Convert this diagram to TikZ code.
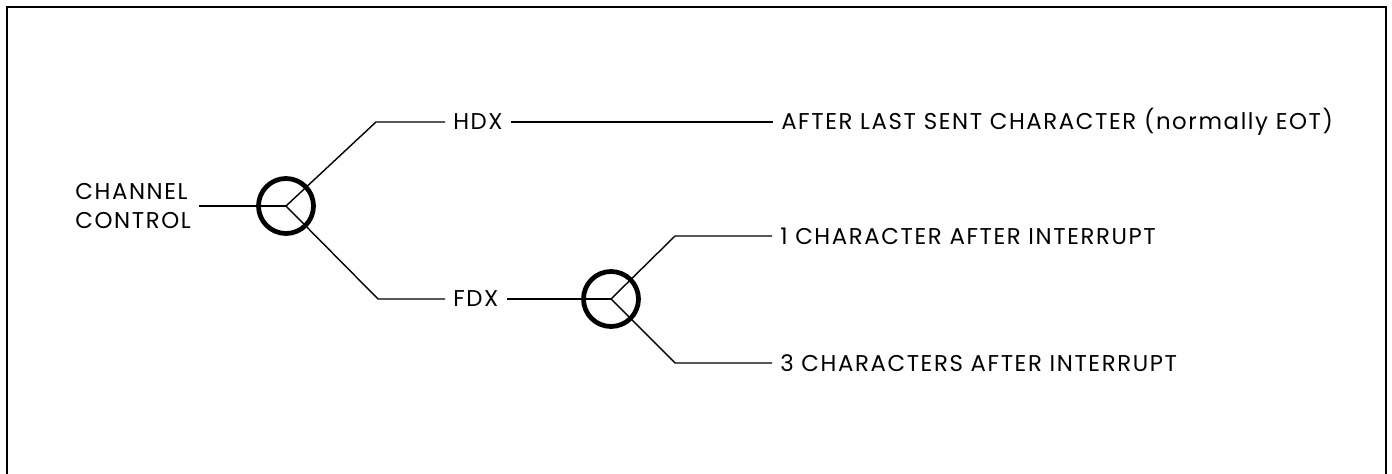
\documentclass[tikz,border=0pt]{standalone}
\usepackage{fontspec}
\setmainfont{Poppins}[LetterSpace=7]
\usepackage{tikz}
\usetikzlibrary{positioning,calc}
\tikzset{
  modelbl/.style  = {inner sep=4.5pt, font=\fontsize{13}{17}\selectfont, align=left},
  modesel/.style  = {circle, draw=black, line width=2.7pt, minimum size=11mm, inner sep=0pt},
  modewire/.style = {draw=black, line width=0.8pt},
  frameline/.style= {draw=black, line width=1.2pt},
}

\begin{document}
\begin{tikzpicture}
  \useasboundingbox (0,0) rectangle (27.84,9.46);
  \draw[frameline] (0.14,-0.2) -- (0.14,9.32) -- (27.72,9.32) -- (27.72,-0.2);

  \node[modelbl, anchor=east] (ctrl) at (3.98,5.34) {CHANNEL\\CONTROL};
  \node[modesel] (sw1) at (5.72,5.34) {};
  \node[modelbl, anchor=west] (hdx)  at (8.90,7.02) {HDX};
  \node[modelbl, anchor=west] (fdx)  at (8.90,3.48) {FDX};
  \node[modesel] (sw2) at (12.22,3.48) {};
  \node[modelbl, anchor=west] (eot)  at (15.46,7.02) {AFTER LAST SENT CHARACTER (normally EOT)};
  \node[modelbl, anchor=west] (one)  at (15.44,4.74) {1 CHARACTER AFTER INTERRUPT};
  \node[modelbl, anchor=west] (three) at (15.44,2.20) {3 CHARACTERS AFTER INTERRUPT};

  \coordinate (k1) at (7.52,7.02);
  \coordinate (k2) at (7.56,3.48);
  \coordinate (k3) at (13.50,4.74);
  \coordinate (k4) at (13.50,2.20);

  \draw[modewire] (ctrl) -- (sw1.center);
  \draw[modewire] (sw1.center) -- (k1) -- (hdx);
  \draw[modewire] (sw1.center) -- (k2) -- (fdx);
  \draw[modewire] (hdx) -- (eot);
  \draw[modewire] (fdx) -- (sw2.center);
  \draw[modewire] (sw2.center) -- (k3) -- (one);
  \draw[modewire] (sw2.center) -- (k4) -- (three);
\end{tikzpicture}
\end{document}
